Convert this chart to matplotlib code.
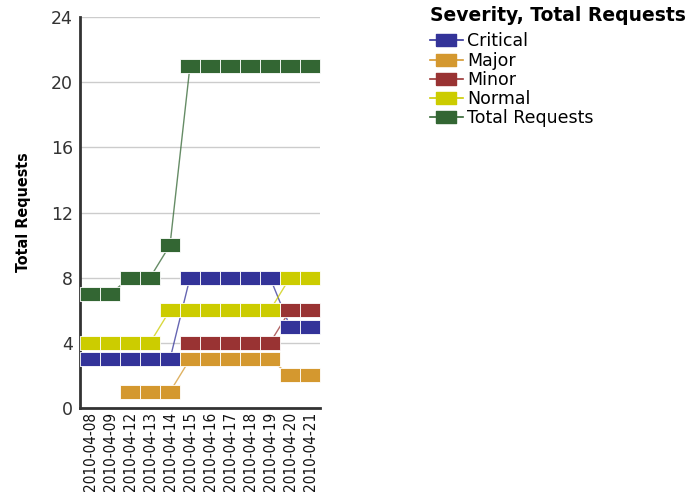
import matplotlib
matplotlib.use("Agg")
import matplotlib.pyplot as plt
import numpy as np

dates = ["2010-04-08", "2010-04-09", "2010-04-12", "2010-04-13", "2010-04-14", "2010-04-15",
         "2010-04-16", "2010-04-17", "2010-04-18", "2010-04-19", "2010-04-20", "2010-04-21"]
critical = [3, 3, 3, 3, 3, 8, 8, 8, 8, 8, 5, 5]
major = [None, None, 1, 1, 1, 3, 3, 3, 3, 3, 2, 2]
minor = [None, None, None, None, None, 4, 4, 4, 4, 4, 6, 6]
normal = [4, 4, 4, 4, 6, 6, 6, 6, 6, 6, 8, 8]
total = [7, 7, 8, 8, 10, 21, 21, 21, 21, 21, 21, 21]

series = [("Critical", critical, "#333399"),
          ("Major", major, "#d4982f"),
          ("Minor", minor, "#993333"),
          ("Normal", normal, "#cccc00"),
          ("Total Requests", total, "#336633")]

# rectangular marker, wider than tall
box = [(-1, -0.66), (1, -0.66), (1, 0.66), (-1, 0.66), (-1, -0.66)]

fig = plt.figure(figsize=(6.93, 4.92), dpi=100)
ax = fig.add_axes([80/693, 84/492, 240/693, 391/492])

x = np.arange(len(dates))
for name, vals, col in series:
    y = np.array([np.nan if v is None else v for v in vals], dtype=float)
    ax.plot(x, y, color=col, lw=1, alpha=0.75, zorder=2)
    ax.plot(x, y, ls="none", marker=box, markersize=14.6, color=col,
            markeredgecolor="white", markeredgewidth=0.6, zorder=3, label=name)

ax.set_xlim(-0.5, 11.5)
ax.set_ylim(0, 24)
ax.set_yticks(range(0, 25, 4))
ax.set_xticks(x)
ax.set_xticklabels(dates, rotation=90, family="DejaVu Sans", fontstretch="condensed",
                   fontsize=11, color="#111111")
ax.tick_params(axis="y", length=0, labelsize=12.5, labelcolor="#333333", pad=5)
ax.tick_params(axis="x", length=0, pad=3)
ax.grid(axis="y", color="#cccccc", lw=1)
ax.set_axisbelow(True)
for s in ["top", "right"]:
    ax.spines[s].set_visible(False)
for s in ["left", "bottom"]:
    ax.spines[s].set_color("#333333")
    ax.spines[s].set_linewidth(2)

ax.set_ylabel("Total Requests", family="DejaVu Sans", fontstretch="condensed",
              fontweight="bold", fontsize=11.5, labelpad=14)

# legend handles with line through the marker
handles = [plt.Line2D([], [], color=col, lw=1.2, marker=box, markersize=14,
                      markeredgecolor=col) for _, _, col in series]
leg = fig.legend(handles, [s[0] for s in series], loc="upper left",
                 bbox_to_anchor=(428/693, 1 - 4/492), frameon=False, fontsize=12.5,
                 title="Severity, Total Requests", alignment="left",
                 handlelength=1.9, handletextpad=0.25, labelspacing=0.07,
                 borderaxespad=0, borderpad=0.1)
leg.get_title().set_fontweight("bold")
leg.get_title().set_fontsize(13.5)
leg._legend_box.sep = 5.5  # gap between title and entries

fig.savefig("out.png", dpi=100)
